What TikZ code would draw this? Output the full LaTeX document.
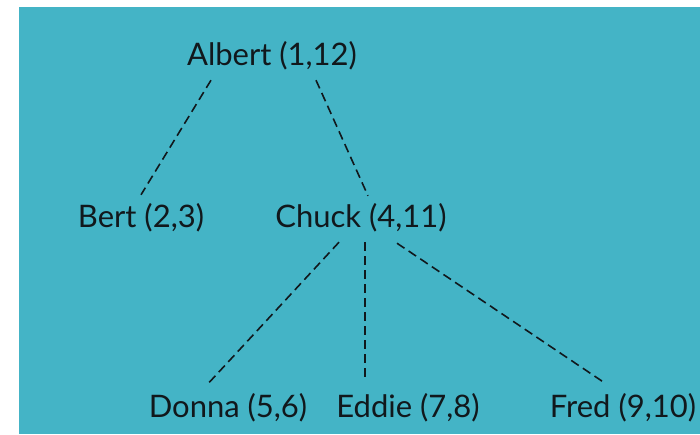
\documentclass[tikz,border=0pt]{standalone}
\usepackage{fontspec}
\setmainfont{Lato}
\definecolor{bgteal}{RGB}{68,180,198}
\definecolor{ink}{RGB}{17,24,28}
\begin{document}
\begin{tikzpicture}[x=1pt,y=-1pt,
  person/.style={anchor=base,inner sep=0pt,text height=22pt,text depth=6pt,
    font=\fontsize{31}{35}\selectfont,text=ink},
  link/.style={draw=ink,line width=1.6pt,dash pattern=on 9pt off 5pt}]
\useasboundingbox (0,0) rectangle (700,434);
\fill[bgteal] (19,7) rectangle (700,434);
\node[person] (albert) at (272,65) {Albert (1,12)};
\node[person] (bert) at (141,227) {Bert (2,3)};
\node[person] (chuck) at (361,227) {Chuck (4,11)};
\node[person] (donna) at (228,417) {Donna (5,6)};
\node[person] (eddie) at (408,417) {Eddie (7,8)};
\node[person] (fred) at (623,417) {Fred (9,10)};
\draw[link] ([shift={(-61,9)}]albert.south) -- ([shift={(0,-10)}]bert.north);
\draw[link] ([shift={(44,9)}]albert.south) -- ([shift={(7,-9)}]chuck.north);
\draw[link] ([shift={(-22,9)}]chuck.south) -- ([shift={(-21,-10)}]donna.north);
\draw[link] ([shift={(4,9)}]chuck.south) -- ([shift={(-43,-18)}]eddie.north);
\draw[link] ([shift={(36,10)}]chuck.south) -- ([shift={(-20,-13)}]fred.north);
\end{tikzpicture}
\end{document}
